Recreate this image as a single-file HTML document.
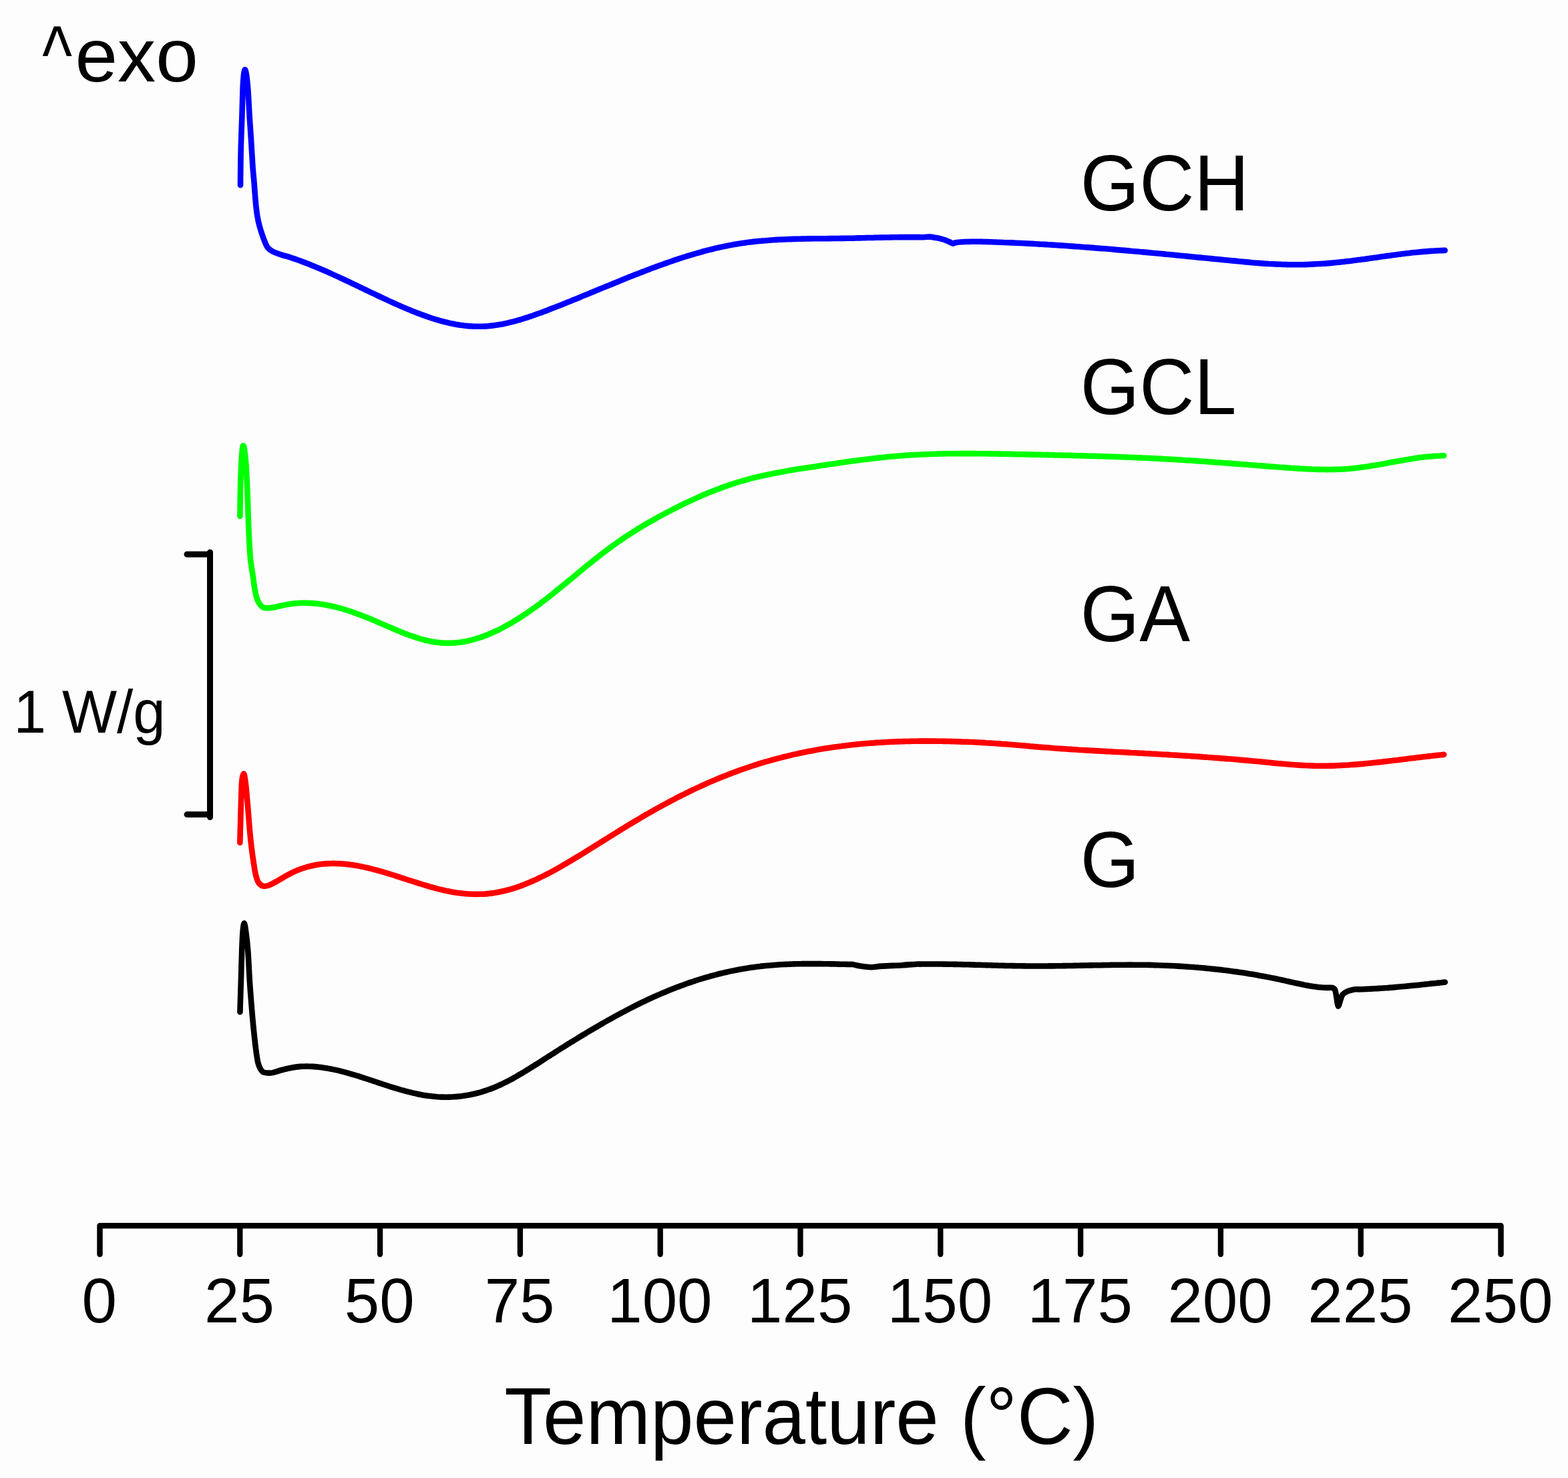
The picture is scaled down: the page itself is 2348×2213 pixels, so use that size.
<!DOCTYPE html>
<html><head><meta charset="utf-8"><title>DSC thermograms</title>
<style>
html,body{margin:0;padding:0;background:#fdfdfd;}
svg{display:block;}
text{font-family:"Liberation Sans",Arial,sans-serif; fill:#000;}
</style></head><body>
<svg width="2348" height="2213" viewBox="0 0 2348 2213">
<rect width="2348" height="2213" fill="#fdfdfd"/>
<g fill="none" stroke-width="8.6" stroke-linecap="round" stroke-linejoin="round">
<path d="M360.0,277.2 C360.1,268.4 360.3,241.7 360.7,224.5 C361.1,207.3 361.9,188.9 362.4,174.0 C362.9,159.1 363.1,145.1 363.5,134.8 C363.9,124.5 364.4,117.1 365.0,112.0 C365.6,106.9 366.2,104.3 366.9,104.3 C367.6,104.3 368.2,106.9 369.0,112.0 C369.8,117.1 370.6,124.5 371.4,134.8 C372.2,145.1 372.9,161.9 373.6,174.0 C374.4,186.1 375.1,194.9 375.9,207.6 C376.7,220.3 377.7,238.9 378.5,250.0 C379.3,261.1 380.0,266.0 380.6,274.0 C381.2,282.0 381.8,290.7 382.4,298.0 C383.0,305.3 383.8,312.5 384.5,318.0 C385.2,323.5 386.0,327.2 386.8,331.0 C387.6,334.8 388.4,337.5 389.2,340.5 C390.0,343.5 390.9,346.2 391.8,349.0 C392.7,351.8 393.8,354.8 394.8,357.5 C395.8,360.2 396.9,363.2 398.0,365.5 C399.1,367.8 399.7,369.6 401.5,371.5 C403.3,373.4 405.2,375.0 409.0,376.8 C412.8,378.6 420.5,381.2 424.0,382.4 C427.5,383.6 428.0,383.4 430.0,383.9 C432.0,384.5 434.0,385.2 436.0,385.9 C438.0,386.5 440.1,387.2 442.1,387.9 C444.1,388.6 446.1,389.3 448.1,390.0 C450.1,390.7 452.1,391.5 454.1,392.2 C456.1,393.0 458.1,393.8 460.1,394.5 C462.1,395.3 464.1,396.1 466.1,396.9 C468.1,397.7 470.1,398.5 472.2,399.4 C474.2,400.2 476.2,401.0 478.2,401.9 C480.2,402.7 482.2,403.6 484.2,404.5 C486.2,405.4 488.2,406.2 490.2,407.1 C492.2,408.0 494.2,408.9 496.2,409.8 C498.2,410.7 500.2,411.6 502.2,412.6 C504.3,413.5 506.3,414.4 508.3,415.3 C510.3,416.3 512.3,417.2 514.3,418.1 C516.3,419.1 518.3,420.0 520.3,421.0 C522.3,421.9 524.3,422.9 526.3,423.8 C528.3,424.8 530.3,425.8 532.3,426.7 C534.3,427.7 536.4,428.6 538.4,429.6 C540.4,430.6 542.4,431.5 544.4,432.5 C546.4,433.4 548.4,434.4 550.4,435.4 C552.4,436.3 554.4,437.3 556.4,438.3 C558.4,439.2 560.4,440.2 562.4,441.1 C564.4,442.1 566.4,443.0 568.5,444.0 C570.5,444.9 572.5,445.9 574.5,446.8 C576.5,447.7 578.5,448.7 580.5,449.6 C582.5,450.5 584.5,451.4 586.5,452.4 C588.5,453.3 590.5,454.2 592.5,455.1 C594.5,456.0 596.5,456.9 598.5,457.7 C600.6,458.6 602.6,459.5 604.6,460.4 C606.6,461.2 608.6,462.1 610.6,462.9 C612.6,463.8 614.6,464.6 616.6,465.4 C618.6,466.2 620.6,467.0 622.6,467.8 C624.6,468.6 626.6,469.4 628.6,470.1 C630.6,470.9 632.7,471.6 634.7,472.3 C636.7,473.1 638.7,473.8 640.7,474.4 C642.7,475.1 644.7,475.8 646.7,476.5 C648.7,477.1 650.7,477.7 652.7,478.3 C654.7,478.9 656.7,479.5 658.7,480.1 C660.7,480.7 662.7,481.2 664.8,481.7 C666.8,482.2 668.8,482.7 670.8,483.2 C672.8,483.6 674.8,484.1 676.8,484.5 C678.8,484.9 680.8,485.3 682.8,485.7 C684.8,486.0 686.8,486.4 688.8,486.7 C690.8,487.0 692.8,487.2 694.8,487.5 C696.9,487.7 698.9,487.9 700.9,488.1 C702.9,488.3 704.9,488.4 706.9,488.5 C708.9,488.7 710.9,488.7 712.9,488.8 C714.9,488.8 716.9,488.8 718.9,488.8 C720.9,488.8 722.9,488.7 724.9,488.6 C726.9,488.5 729.0,488.4 731.0,488.2 C733.0,488.0 735.0,487.8 737.0,487.6 C739.0,487.4 741.0,487.1 743.0,486.8 C745.0,486.5 747.0,486.2 749.0,485.8 C751.0,485.5 753.0,485.1 755.0,484.7 C757.0,484.3 759.1,483.8 761.1,483.3 C763.1,482.9 765.1,482.4 767.1,481.9 C769.1,481.4 771.1,480.8 773.1,480.3 C775.1,479.7 777.1,479.2 779.1,478.6 C781.1,478.0 783.1,477.4 785.1,476.7 C787.1,476.1 789.1,475.5 791.2,474.8 C793.2,474.1 795.2,473.4 797.2,472.8 C799.2,472.1 801.2,471.4 803.2,470.6 C805.2,469.9 807.2,469.2 809.2,468.5 C811.2,467.7 813.2,467.0 815.2,466.2 C817.2,465.5 819.2,464.7 821.2,463.9 C823.3,463.2 825.3,462.4 827.3,461.6 C829.3,460.8 831.3,460.0 833.3,459.3 C835.3,458.5 837.3,457.7 839.3,456.9 C841.3,456.1 843.3,455.3 845.3,454.5 C847.3,453.7 849.3,452.9 851.3,452.1 C853.3,451.2 855.4,450.4 857.4,449.6 C859.4,448.8 861.4,448.0 863.4,447.2 C865.4,446.4 867.4,445.5 869.4,444.7 C871.4,443.9 873.4,443.1 875.4,442.2 C877.4,441.4 879.4,440.6 881.4,439.8 C883.4,438.9 885.4,438.1 887.5,437.3 C889.5,436.5 891.5,435.6 893.5,434.8 C895.5,434.0 897.5,433.1 899.5,432.3 C901.5,431.5 903.5,430.7 905.5,429.8 C907.5,429.0 909.5,428.2 911.5,427.4 C913.5,426.5 915.5,425.7 917.5,424.9 C919.6,424.1 921.6,423.2 923.6,422.4 C925.6,421.6 927.6,420.8 929.6,420.0 C931.6,419.2 933.6,418.4 935.6,417.5 C937.6,416.7 939.6,415.9 941.6,415.1 C943.6,414.3 945.6,413.5 947.6,412.7 C949.6,411.9 951.7,411.1 953.7,410.4 C955.7,409.6 957.7,408.8 959.7,408.0 C961.7,407.2 963.7,406.5 965.7,405.7 C967.7,404.9 969.7,404.2 971.7,403.4 C973.7,402.6 975.7,401.9 977.7,401.1 C979.7,400.4 981.7,399.6 983.8,398.9 C985.8,398.2 987.8,397.4 989.8,396.7 C991.8,396.0 993.8,395.3 995.8,394.6 C997.8,393.9 999.8,393.1 1001.8,392.5 C1003.8,391.8 1005.8,391.1 1007.8,390.4 C1009.8,389.7 1011.8,389.0 1013.8,388.4 C1015.9,387.7 1017.9,387.0 1019.9,386.4 C1021.9,385.7 1023.9,385.1 1025.9,384.5 C1027.9,383.8 1029.9,383.2 1031.9,382.6 C1033.9,382.0 1035.9,381.4 1037.9,380.8 C1039.9,380.2 1041.9,379.6 1043.9,379.0 C1045.9,378.5 1048.0,377.9 1050.0,377.3 C1052.0,376.8 1054.0,376.2 1056.0,375.7 C1058.0,375.2 1060.0,374.7 1062.0,374.2 C1064.0,373.6 1066.0,373.1 1068.0,372.7 C1070.0,372.2 1072.0,371.7 1074.0,371.2 C1076.0,370.8 1078.1,370.3 1080.1,369.9 C1082.1,369.4 1084.1,369.0 1086.1,368.6 C1088.1,368.2 1090.1,367.8 1092.1,367.4 C1094.1,367.0 1096.1,366.6 1098.1,366.3 C1100.1,365.9 1102.1,365.6 1104.1,365.2 C1106.1,364.9 1108.1,364.6 1110.2,364.3 C1112.2,364.0 1114.2,363.7 1116.2,363.4 C1118.2,363.1 1120.2,362.9 1122.2,362.6 C1124.2,362.4 1126.2,362.1 1128.2,361.9 C1130.2,361.7 1132.2,361.5 1134.2,361.3 C1136.2,361.1 1138.2,360.9 1140.2,360.7 C1142.3,360.5 1144.3,360.3 1146.3,360.2 C1148.3,360.0 1150.3,359.8 1152.3,359.7 C1154.3,359.6 1156.3,359.4 1158.3,359.3 C1160.3,359.2 1162.3,359.0 1164.3,358.9 C1166.3,358.8 1168.3,358.7 1170.3,358.6 C1172.3,358.5 1174.4,358.4 1176.4,358.4 C1178.4,358.3 1180.4,358.2 1182.4,358.1 C1184.4,358.1 1186.4,358.0 1188.4,357.9 C1190.4,357.9 1192.4,357.8 1194.4,357.8 C1196.4,357.7 1198.4,357.7 1200.4,357.6 C1202.4,357.6 1204.4,357.6 1206.5,357.5 C1208.5,357.5 1210.5,357.5 1212.5,357.4 C1214.5,357.4 1216.5,357.4 1218.5,357.3 C1220.5,357.3 1222.5,357.3 1224.5,357.3 C1226.5,357.3 1228.5,357.2 1230.5,357.2 C1232.5,357.2 1234.5,357.2 1236.5,357.2 C1238.6,357.1 1240.6,357.1 1242.6,357.1 C1244.6,357.1 1246.6,357.1 1248.6,357.0 C1250.6,357.0 1252.6,357.0 1254.6,357.0 C1256.6,356.9 1258.6,356.9 1260.6,356.9 C1262.6,356.9 1264.6,356.8 1266.6,356.8 C1268.6,356.8 1270.7,356.7 1272.7,356.7 C1274.7,356.6 1276.7,356.6 1278.7,356.6 C1280.7,356.5 1282.7,356.5 1284.7,356.4 C1286.7,356.4 1288.7,356.3 1290.7,356.3 C1292.7,356.2 1294.7,356.2 1296.7,356.1 C1298.7,356.1 1300.7,356.0 1302.8,356.0 C1304.8,356.0 1306.8,355.9 1308.8,355.9 C1310.8,355.8 1312.8,355.8 1314.8,355.7 C1316.8,355.7 1318.8,355.6 1320.8,355.6 C1322.8,355.5 1324.8,355.5 1326.8,355.5 C1328.8,355.4 1330.8,355.4 1332.8,355.4 C1334.9,355.3 1336.9,355.3 1338.9,355.3 C1340.9,355.2 1342.9,355.2 1344.9,355.2 C1346.9,355.2 1348.9,355.1 1350.9,355.1 C1352.9,355.1 1354.9,355.1 1356.9,355.1 C1358.9,355.1 1360.9,355.1 1362.9,355.1 C1364.9,355.1 1367.0,355.1 1369.0,355.1 C1371.0,355.1 1373.0,355.1 1375.0,355.1 C1377.0,355.1 1378.2,355.3 1381.0,355.2 C1383.8,355.1 1388.5,354.5 1392.0,354.6 C1395.5,354.8 1399.0,355.6 1402.0,356.1 C1405.0,356.6 1407.7,357.2 1410.0,357.8 C1412.3,358.4 1414.0,358.9 1416.0,359.7 C1418.0,360.4 1420.2,361.5 1422.0,362.3 C1423.8,363.1 1425.5,364.5 1427.0,364.6 C1428.5,364.8 1428.7,363.6 1431.0,363.2 C1433.3,362.8 1436.0,362.4 1441.0,362.2 C1446.0,361.9 1456.7,361.8 1461.0,361.7 C1465.3,361.6 1465.0,361.8 1467.0,361.8 C1469.0,361.9 1471.0,361.9 1473.0,362.0 C1475.0,362.0 1477.0,362.1 1479.0,362.1 C1481.0,362.2 1483.0,362.3 1485.0,362.3 C1487.0,362.4 1489.0,362.5 1491.0,362.5 C1493.0,362.6 1495.0,362.7 1497.0,362.7 C1499.0,362.8 1501.0,362.9 1503.0,363.0 C1505.0,363.0 1507.0,363.1 1509.0,363.2 C1511.0,363.3 1513.1,363.4 1515.1,363.4 C1517.1,363.5 1519.1,363.6 1521.1,363.7 C1523.1,363.8 1525.1,363.9 1527.1,364.0 C1529.1,364.1 1531.1,364.2 1533.1,364.3 C1535.1,364.4 1537.1,364.5 1539.1,364.6 C1541.1,364.7 1543.1,364.8 1545.1,364.9 C1547.1,365.0 1549.1,365.1 1551.1,365.2 C1553.1,365.3 1555.1,365.4 1557.1,365.6 C1559.1,365.7 1561.1,365.8 1563.1,365.9 C1565.1,366.0 1567.1,366.1 1569.1,366.3 C1571.1,366.4 1573.1,366.5 1575.1,366.6 C1577.1,366.8 1579.1,366.9 1581.1,367.0 C1583.1,367.1 1585.1,367.3 1587.1,367.4 C1589.1,367.5 1591.1,367.7 1593.1,367.8 C1595.1,368.0 1597.1,368.1 1599.1,368.2 C1601.1,368.4 1603.1,368.5 1605.1,368.6 C1607.1,368.8 1609.1,368.9 1611.1,369.1 C1613.2,369.2 1615.2,369.4 1617.2,369.5 C1619.2,369.7 1621.2,369.8 1623.2,370.0 C1625.2,370.1 1627.2,370.3 1629.2,370.4 C1631.2,370.6 1633.2,370.7 1635.2,370.9 C1637.2,371.1 1639.2,371.2 1641.2,371.4 C1643.2,371.5 1645.2,371.7 1647.2,371.9 C1649.2,372.0 1651.2,372.2 1653.2,372.3 C1655.2,372.5 1657.2,372.7 1659.2,372.8 C1661.2,373.0 1663.2,373.2 1665.2,373.3 C1667.2,373.5 1669.2,373.7 1671.2,373.9 C1673.2,374.0 1675.2,374.2 1677.2,374.4 C1679.2,374.5 1681.2,374.7 1683.2,374.9 C1685.2,375.1 1687.2,375.2 1689.2,375.4 C1691.2,375.6 1693.2,375.8 1695.2,376.0 C1697.2,376.1 1699.2,376.3 1701.2,376.5 C1703.2,376.7 1705.2,376.9 1707.2,377.0 C1709.2,377.2 1711.2,377.4 1713.3,377.6 C1715.3,377.8 1717.3,378.0 1719.3,378.1 C1721.3,378.3 1723.3,378.5 1725.3,378.7 C1727.3,378.9 1729.3,379.1 1731.3,379.3 C1733.3,379.5 1735.3,379.6 1737.3,379.8 C1739.3,380.0 1741.3,380.2 1743.3,380.4 C1745.3,380.6 1747.3,380.8 1749.3,381.0 C1751.3,381.2 1753.3,381.4 1755.3,381.5 C1757.3,381.7 1759.3,381.9 1761.3,382.1 C1763.3,382.3 1765.3,382.5 1767.3,382.7 C1769.3,382.9 1771.3,383.1 1773.3,383.3 C1775.3,383.5 1777.3,383.7 1779.3,383.9 C1781.3,384.1 1783.3,384.3 1785.3,384.5 C1787.3,384.7 1789.3,384.9 1791.3,385.1 C1793.3,385.2 1795.3,385.4 1797.3,385.6 C1799.3,385.8 1801.3,386.0 1803.3,386.2 C1805.3,386.4 1807.3,386.6 1809.3,386.8 C1811.3,387.0 1813.4,387.2 1815.4,387.4 C1817.4,387.6 1819.4,387.8 1821.4,388.0 C1823.4,388.2 1825.4,388.4 1827.4,388.6 C1829.4,388.8 1831.4,389.0 1833.4,389.2 C1835.4,389.4 1837.4,389.6 1839.4,389.8 C1841.4,390.0 1843.4,390.2 1845.4,390.4 C1847.4,390.6 1849.4,390.8 1851.4,390.9 C1853.4,391.1 1855.4,391.3 1857.4,391.5 C1859.4,391.7 1861.4,391.9 1863.4,392.1 C1865.4,392.3 1867.4,392.5 1869.4,392.6 C1871.4,392.8 1873.4,393.0 1875.4,393.2 C1877.4,393.3 1879.4,393.5 1881.4,393.7 C1883.4,393.8 1885.4,394.0 1887.4,394.1 C1889.4,394.3 1891.4,394.4 1893.4,394.6 C1895.4,394.7 1897.4,394.8 1899.4,395.0 C1901.4,395.1 1903.4,395.2 1905.4,395.3 C1907.4,395.4 1909.4,395.5 1911.4,395.6 C1913.5,395.7 1915.5,395.8 1917.5,395.8 C1919.5,395.9 1921.5,396.0 1923.5,396.0 C1925.5,396.1 1927.5,396.1 1929.5,396.2 C1931.5,396.2 1933.5,396.2 1935.5,396.2 C1937.5,396.2 1939.5,396.2 1941.5,396.2 C1943.5,396.2 1945.5,396.2 1947.5,396.2 C1949.5,396.1 1951.5,396.1 1953.5,396.1 C1955.5,396.0 1957.5,395.9 1959.5,395.9 C1961.5,395.8 1963.5,395.7 1965.5,395.6 C1967.5,395.5 1969.5,395.4 1971.5,395.3 C1973.5,395.2 1975.5,395.1 1977.5,395.0 C1979.5,394.9 1981.5,394.7 1983.5,394.6 C1985.5,394.4 1987.5,394.3 1989.5,394.1 C1991.5,393.9 1993.5,393.8 1995.5,393.6 C1997.5,393.4 1999.5,393.2 2001.5,393.0 C2003.5,392.8 2005.5,392.6 2007.5,392.4 C2009.5,392.2 2011.5,391.9 2013.6,391.7 C2015.6,391.5 2017.6,391.2 2019.6,391.0 C2021.6,390.8 2023.6,390.5 2025.6,390.3 C2027.6,390.0 2029.6,389.7 2031.6,389.5 C2033.6,389.2 2035.6,389.0 2037.6,388.7 C2039.6,388.4 2041.6,388.2 2043.6,387.9 C2045.6,387.6 2047.6,387.3 2049.6,387.1 C2051.6,386.8 2053.6,386.5 2055.6,386.2 C2057.6,385.9 2059.6,385.7 2061.6,385.4 C2063.6,385.1 2065.6,384.8 2067.6,384.5 C2069.6,384.2 2071.6,384.0 2073.6,383.7 C2075.6,383.4 2077.6,383.1 2079.6,382.9 C2081.6,382.6 2083.6,382.3 2085.6,382.0 C2087.6,381.8 2089.6,381.5 2091.6,381.2 C2093.6,381.0 2095.6,380.7 2097.6,380.5 C2099.6,380.2 2101.6,380.0 2103.6,379.7 C2105.6,379.5 2107.6,379.2 2109.6,379.0 C2111.6,378.8 2113.7,378.6 2115.7,378.3 C2117.7,378.1 2119.7,377.9 2121.7,377.7 C2123.7,377.5 2125.7,377.3 2127.7,377.1 C2129.7,376.9 2131.7,376.8 2133.7,376.6 C2135.7,376.4 2137.7,376.3 2139.7,376.1 C2141.7,376.0 2143.7,375.8 2145.7,375.7 C2147.7,375.6 2149.7,375.5 2151.7,375.4 C2153.7,375.3 2155.7,375.2 2157.7,375.1 C2159.7,375.0 2162.7,374.9 2163.7,374.9" stroke="#0000ff" />
<path d="M359.4,773.0 C359.5,765.0 359.8,739.0 360.2,724.7 C360.6,710.4 361.2,696.2 361.7,687.4 C362.2,678.6 362.6,675.4 363.0,672.0 C363.4,668.6 363.7,667.2 364.2,667.2 C364.7,667.2 365.1,667.4 365.8,672.0 C366.5,676.6 367.6,683.5 368.4,694.8 C369.2,706.1 370.0,724.8 370.6,739.7 C371.2,754.7 371.5,769.5 372.1,784.5 C372.7,799.5 373.7,818.8 374.4,829.4 C375.1,840.0 375.8,842.9 376.5,848.0 C377.2,853.1 377.7,855.0 378.4,860.0 C379.1,865.0 380.0,872.6 380.9,878.1 C381.8,883.6 382.7,889.0 383.9,893.2 C385.1,897.4 386.4,900.8 388.1,903.5 C389.8,906.2 392.1,908.4 394.1,909.5 C396.1,910.6 397.2,910.5 400.2,910.4 C403.2,910.3 408.2,909.6 412.2,908.9 C416.2,908.2 421.3,906.8 424.3,906.2 C427.3,905.6 428.3,905.4 430.3,905.0 C432.3,904.7 434.3,904.3 436.3,904.1 C438.3,903.8 440.3,903.6 442.3,903.4 C444.3,903.2 446.3,903.1 448.4,903.0 C450.4,902.9 452.4,902.8 454.4,902.8 C456.4,902.8 458.4,902.8 460.4,902.9 C462.4,902.9 464.4,903.0 466.4,903.1 C468.4,903.3 470.4,903.4 472.4,903.6 C474.4,903.8 476.4,904.0 478.4,904.3 C480.4,904.6 482.4,904.9 484.4,905.2 C486.4,905.5 488.4,905.9 490.4,906.2 C492.5,906.6 494.5,907.0 496.5,907.5 C498.5,907.9 500.5,908.4 502.5,908.9 C504.5,909.4 506.5,909.9 508.5,910.5 C510.5,911.0 512.5,911.6 514.5,912.2 C516.5,912.8 518.5,913.4 520.5,914.0 C522.5,914.7 524.5,915.3 526.5,916.0 C528.5,916.7 530.5,917.4 532.5,918.1 C534.5,918.8 536.6,919.6 538.6,920.3 C540.6,921.1 542.6,921.9 544.6,922.7 C546.6,923.5 548.6,924.3 550.6,925.1 C552.6,925.9 554.6,926.7 556.6,927.6 C558.6,928.4 560.6,929.3 562.6,930.1 C564.6,931.0 566.6,931.9 568.6,932.7 C570.6,933.6 572.6,934.5 574.6,935.3 C576.6,936.2 578.6,937.1 580.7,938.0 C582.7,938.8 584.7,939.7 586.7,940.5 C588.7,941.4 590.7,942.2 592.7,943.1 C594.7,943.9 596.7,944.8 598.7,945.6 C600.7,946.4 602.7,947.2 604.7,948.0 C606.7,948.7 608.7,949.5 610.7,950.2 C612.7,951.0 614.7,951.7 616.7,952.4 C618.7,953.1 620.7,953.8 622.7,954.4 C624.7,955.1 626.8,955.7 628.8,956.3 C630.8,956.9 632.8,957.4 634.8,958.0 C636.8,958.5 638.8,959.0 640.8,959.4 C642.8,959.9 644.8,960.3 646.8,960.7 C648.8,961.0 650.8,961.4 652.8,961.6 C654.8,961.9 656.8,962.2 658.8,962.4 C660.8,962.6 662.8,962.7 664.8,962.8 C666.8,962.9 668.8,962.9 670.9,962.9 C672.9,962.9 674.9,962.9 676.9,962.8 C678.9,962.7 680.9,962.6 682.9,962.4 C684.9,962.2 686.9,962.0 688.9,961.7 C690.9,961.4 692.9,961.1 694.9,960.8 C696.9,960.4 698.9,960.0 700.9,959.6 C702.9,959.1 704.9,958.6 706.9,958.1 C708.9,957.6 710.9,957.0 712.9,956.4 C715.0,955.8 717.0,955.2 719.0,954.5 C721.0,953.9 723.0,953.1 725.0,952.4 C727.0,951.6 729.0,950.9 731.0,950.0 C733.0,949.2 735.0,948.4 737.0,947.5 C739.0,946.6 741.0,945.7 743.0,944.7 C745.0,943.8 747.0,942.8 749.0,941.8 C751.0,940.8 753.0,939.7 755.0,938.7 C757.0,937.6 759.1,936.5 761.1,935.3 C763.1,934.2 765.1,933.1 767.1,931.9 C769.1,930.7 771.1,929.5 773.1,928.2 C775.1,927.0 777.1,925.7 779.1,924.4 C781.1,923.2 783.1,921.8 785.1,920.5 C787.1,919.2 789.1,917.8 791.1,916.4 C793.1,915.1 795.1,913.6 797.1,912.2 C799.1,910.8 801.1,909.4 803.2,907.9 C805.2,906.4 807.2,905.0 809.2,903.5 C811.2,902.0 813.2,900.4 815.2,898.9 C817.2,897.4 819.2,895.8 821.2,894.3 C823.2,892.7 825.2,891.1 827.2,889.5 C829.2,887.9 831.2,886.3 833.2,884.7 C835.2,883.1 837.2,881.5 839.2,879.8 C841.2,878.2 843.2,876.5 845.2,874.9 C847.2,873.2 849.3,871.6 851.3,869.9 C853.3,868.3 855.3,866.6 857.3,864.9 C859.3,863.3 861.3,861.6 863.3,860.0 C865.3,858.3 867.3,856.6 869.3,855.0 C871.3,853.3 873.3,851.7 875.3,850.0 C877.3,848.4 879.3,846.7 881.3,845.1 C883.3,843.5 885.3,841.9 887.3,840.3 C889.3,838.6 891.3,837.0 893.4,835.5 C895.4,833.9 897.4,832.3 899.4,830.7 C901.4,829.2 903.4,827.6 905.4,826.1 C907.4,824.6 909.4,823.1 911.4,821.6 C913.4,820.1 915.4,818.7 917.4,817.2 C919.4,815.8 921.4,814.3 923.4,812.9 C925.4,811.5 927.4,810.1 929.4,808.8 C931.4,807.4 933.4,806.0 935.4,804.7 C937.5,803.4 939.5,802.0 941.5,800.7 C943.5,799.4 945.5,798.1 947.5,796.9 C949.5,795.6 951.5,794.3 953.5,793.1 C955.5,791.9 957.5,790.6 959.5,789.4 C961.5,788.2 963.5,787.0 965.5,785.8 C967.5,784.6 969.5,783.5 971.5,782.3 C973.5,781.1 975.5,780.0 977.5,778.9 C979.5,777.7 981.6,776.6 983.6,775.5 C985.6,774.4 987.6,773.3 989.6,772.2 C991.6,771.1 993.6,770.0 995.6,769.0 C997.6,767.9 999.6,766.9 1001.6,765.8 C1003.6,764.8 1005.6,763.7 1007.6,762.7 C1009.6,761.7 1011.6,760.6 1013.6,759.6 C1015.6,758.6 1017.6,757.6 1019.6,756.6 C1021.6,755.7 1023.6,754.7 1025.6,753.7 C1027.7,752.7 1029.7,751.8 1031.7,750.9 C1033.7,749.9 1035.7,749.0 1037.7,748.1 C1039.7,747.1 1041.7,746.2 1043.7,745.3 C1045.7,744.4 1047.7,743.5 1049.7,742.7 C1051.7,741.8 1053.7,740.9 1055.7,740.1 C1057.7,739.2 1059.7,738.4 1061.7,737.6 C1063.7,736.8 1065.7,736.0 1067.7,735.2 C1069.7,734.4 1071.8,733.6 1073.8,732.8 C1075.8,732.1 1077.8,731.3 1079.8,730.6 C1081.8,729.8 1083.8,729.1 1085.8,728.4 C1087.8,727.7 1089.8,727.0 1091.8,726.3 C1093.8,725.6 1095.8,725.0 1097.8,724.3 C1099.8,723.7 1101.8,723.0 1103.8,722.4 C1105.8,721.8 1107.8,721.2 1109.8,720.6 C1111.8,720.0 1113.8,719.4 1115.9,718.9 C1117.9,718.3 1119.9,717.8 1121.9,717.2 C1123.9,716.7 1125.9,716.2 1127.9,715.7 C1129.9,715.2 1131.9,714.7 1133.9,714.2 C1135.9,713.7 1137.9,713.3 1139.9,712.8 C1141.9,712.3 1143.9,711.9 1145.9,711.5 C1147.9,711.0 1149.9,710.6 1151.9,710.2 C1153.9,709.8 1155.9,709.4 1157.9,709.0 C1160.0,708.6 1162.0,708.2 1164.0,707.8 C1166.0,707.4 1168.0,707.0 1170.0,706.7 C1172.0,706.3 1174.0,706.0 1176.0,705.6 C1178.0,705.2 1180.0,704.9 1182.0,704.6 C1184.0,704.2 1186.0,703.9 1188.0,703.6 C1190.0,703.2 1192.0,702.9 1194.0,702.6 C1196.0,702.3 1198.0,701.9 1200.0,701.6 C1202.0,701.3 1204.0,701.0 1206.1,700.7 C1208.1,700.4 1210.1,700.1 1212.1,699.8 C1214.1,699.5 1216.1,699.2 1218.1,698.9 C1220.1,698.6 1222.1,698.3 1224.1,698.0 C1226.1,697.7 1228.1,697.4 1230.1,697.1 C1232.1,696.8 1234.1,696.5 1236.1,696.2 C1238.1,695.9 1240.1,695.6 1242.1,695.3 C1244.1,695.0 1246.1,694.7 1248.1,694.4 C1250.2,694.1 1252.2,693.8 1254.2,693.5 C1256.2,693.2 1258.2,692.9 1260.2,692.6 C1262.2,692.4 1264.2,692.1 1266.2,691.8 C1268.2,691.5 1270.2,691.2 1272.2,690.9 C1274.2,690.7 1276.2,690.4 1278.2,690.1 C1280.2,689.8 1282.2,689.6 1284.2,689.3 C1286.2,689.0 1288.2,688.8 1290.2,688.5 C1292.2,688.3 1294.3,688.0 1296.3,687.8 C1298.3,687.5 1300.3,687.3 1302.3,687.0 C1304.3,686.8 1306.3,686.5 1308.3,686.3 C1310.3,686.1 1312.3,685.8 1314.3,685.6 C1316.3,685.4 1318.3,685.2 1320.3,685.0 C1322.3,684.8 1324.3,684.5 1326.3,684.3 C1328.3,684.1 1330.3,684.0 1332.3,683.8 C1334.3,683.6 1336.3,683.4 1338.4,683.2 C1340.4,683.0 1342.4,682.9 1344.4,682.7 C1346.4,682.5 1348.4,682.4 1350.4,682.2 C1352.4,682.1 1354.4,681.9 1356.4,681.8 C1358.4,681.7 1360.4,681.5 1362.4,681.4 C1364.4,681.3 1366.4,681.2 1368.4,681.1 C1370.4,680.9 1372.4,680.8 1374.4,680.7 C1376.4,680.6 1378.4,680.5 1380.4,680.5 C1382.5,680.4 1384.5,680.3 1386.5,680.2 C1388.5,680.1 1390.5,680.0 1392.5,680.0 C1394.5,679.9 1396.5,679.8 1398.5,679.8 C1400.5,679.7 1402.5,679.7 1404.5,679.6 C1406.5,679.6 1408.5,679.5 1410.5,679.5 C1412.5,679.4 1414.5,679.4 1416.5,679.3 C1418.5,679.3 1420.5,679.3 1422.5,679.3 C1424.5,679.2 1426.5,679.2 1428.6,679.2 C1430.6,679.2 1432.6,679.2 1434.6,679.1 C1436.6,679.1 1438.6,679.1 1440.6,679.1 C1442.6,679.1 1444.6,679.1 1446.6,679.1 C1448.6,679.1 1450.6,679.1 1452.6,679.1 C1454.6,679.1 1456.6,679.1 1458.6,679.1 C1460.6,679.2 1462.6,679.2 1464.6,679.2 C1466.6,679.2 1468.6,679.2 1470.6,679.2 C1472.7,679.3 1474.7,679.3 1476.7,679.3 C1478.7,679.3 1480.7,679.4 1482.7,679.4 C1484.7,679.4 1486.7,679.5 1488.7,679.5 C1490.7,679.5 1492.7,679.6 1494.7,679.6 C1496.7,679.6 1498.7,679.7 1500.7,679.7 C1502.7,679.7 1504.7,679.8 1506.7,679.8 C1508.7,679.9 1510.7,679.9 1512.7,679.9 C1514.7,680.0 1516.8,680.0 1518.8,680.1 C1520.8,680.1 1522.8,680.1 1524.8,680.2 C1526.8,680.2 1528.8,680.3 1530.8,680.3 C1532.8,680.4 1534.8,680.4 1536.8,680.4 C1538.8,680.5 1540.8,680.5 1542.8,680.6 C1544.8,680.6 1546.8,680.7 1548.8,680.7 C1550.8,680.7 1552.8,680.8 1554.8,680.8 C1556.8,680.9 1558.8,680.9 1560.9,681.0 C1562.9,681.0 1564.9,681.1 1566.9,681.1 C1568.9,681.1 1570.9,681.2 1572.9,681.2 C1574.9,681.3 1576.9,681.3 1578.9,681.4 C1580.9,681.4 1582.9,681.5 1584.9,681.5 C1586.9,681.6 1588.9,681.6 1590.9,681.7 C1592.9,681.7 1594.9,681.7 1596.9,681.8 C1598.9,681.8 1600.9,681.9 1602.9,681.9 C1604.9,682.0 1607.0,682.0 1609.0,682.1 C1611.0,682.2 1613.0,682.2 1615.0,682.3 C1617.0,682.3 1619.0,682.4 1621.0,682.4 C1623.0,682.5 1625.0,682.5 1627.0,682.6 C1629.0,682.6 1631.0,682.7 1633.0,682.8 C1635.0,682.8 1637.0,682.9 1639.0,682.9 C1641.0,683.0 1643.0,683.0 1645.0,683.1 C1647.0,683.2 1649.0,683.2 1651.1,683.3 C1653.1,683.4 1655.1,683.4 1657.1,683.5 C1659.1,683.6 1661.1,683.6 1663.1,683.7 C1665.1,683.8 1667.1,683.8 1669.1,683.9 C1671.1,684.0 1673.1,684.0 1675.1,684.1 C1677.1,684.2 1679.1,684.3 1681.1,684.3 C1683.1,684.4 1685.1,684.5 1687.1,684.6 C1689.1,684.6 1691.1,684.7 1693.1,684.8 C1695.2,684.9 1697.2,685.0 1699.2,685.0 C1701.2,685.1 1703.2,685.2 1705.2,685.3 C1707.2,685.4 1709.2,685.5 1711.2,685.6 C1713.2,685.6 1715.2,685.7 1717.2,685.8 C1719.2,685.9 1721.2,686.0 1723.2,686.1 C1725.2,686.2 1727.2,686.3 1729.2,686.4 C1731.2,686.5 1733.2,686.6 1735.2,686.7 C1737.2,686.8 1739.3,686.9 1741.3,687.0 C1743.3,687.1 1745.3,687.2 1747.3,687.4 C1749.3,687.5 1751.3,687.6 1753.3,687.7 C1755.3,687.8 1757.3,687.9 1759.3,688.0 C1761.3,688.2 1763.3,688.3 1765.3,688.4 C1767.3,688.5 1769.3,688.6 1771.3,688.8 C1773.3,688.9 1775.3,689.0 1777.3,689.2 C1779.3,689.3 1781.3,689.4 1783.3,689.5 C1785.4,689.7 1787.4,689.8 1789.4,689.9 C1791.4,690.1 1793.4,690.2 1795.4,690.4 C1797.4,690.5 1799.4,690.6 1801.4,690.8 C1803.4,690.9 1805.4,691.1 1807.4,691.2 C1809.4,691.4 1811.4,691.5 1813.4,691.6 C1815.4,691.8 1817.4,691.9 1819.4,692.1 C1821.4,692.2 1823.4,692.4 1825.4,692.5 C1827.4,692.7 1829.5,692.8 1831.5,693.0 C1833.5,693.1 1835.5,693.3 1837.5,693.4 C1839.5,693.6 1841.5,693.7 1843.5,693.9 C1845.5,694.1 1847.5,694.2 1849.5,694.4 C1851.5,694.5 1853.5,694.7 1855.5,694.8 C1857.5,695.0 1859.5,695.1 1861.5,695.3 C1863.5,695.5 1865.5,695.6 1867.5,695.8 C1869.5,695.9 1871.5,696.1 1873.6,696.2 C1875.6,696.4 1877.6,696.5 1879.6,696.7 C1881.6,696.9 1883.6,697.0 1885.6,697.2 C1887.6,697.3 1889.6,697.5 1891.6,697.6 C1893.6,697.8 1895.6,697.9 1897.6,698.1 C1899.6,698.3 1901.6,698.4 1903.6,698.6 C1905.6,698.7 1907.6,698.9 1909.6,699.0 C1911.6,699.2 1913.6,699.3 1915.6,699.5 C1917.7,699.6 1919.7,699.8 1921.7,699.9 C1923.7,700.1 1925.7,700.2 1927.7,700.4 C1929.7,700.5 1931.7,700.6 1933.7,700.8 C1935.7,700.9 1937.7,701.1 1939.7,701.2 C1941.7,701.3 1943.7,701.5 1945.7,701.6 C1947.7,701.7 1949.7,701.8 1951.7,701.9 C1953.7,702.0 1955.7,702.1 1957.7,702.2 C1959.7,702.3 1961.8,702.4 1963.8,702.5 C1965.8,702.6 1967.8,702.7 1969.8,702.7 C1971.8,702.8 1973.8,702.9 1975.8,702.9 C1977.8,703.0 1979.8,703.0 1981.8,703.0 C1983.8,703.0 1985.8,703.1 1987.8,703.1 C1989.8,703.1 1991.8,703.0 1993.8,703.0 C1995.8,703.0 1997.8,703.0 1999.8,702.9 C2001.8,702.8 2003.8,702.8 2005.8,702.7 C2007.9,702.6 2009.9,702.5 2011.9,702.4 C2013.9,702.3 2015.9,702.1 2017.9,702.0 C2019.9,701.8 2021.9,701.7 2023.9,701.5 C2025.9,701.3 2027.9,701.1 2029.9,700.9 C2031.9,700.6 2033.9,700.4 2035.9,700.1 C2037.9,699.9 2039.9,699.6 2041.9,699.3 C2043.9,699.0 2045.9,698.7 2047.9,698.4 C2049.9,698.1 2052.0,697.8 2054.0,697.5 C2056.0,697.2 2058.0,696.8 2060.0,696.5 C2062.0,696.1 2064.0,695.8 2066.0,695.4 C2068.0,695.1 2070.0,694.7 2072.0,694.4 C2074.0,694.0 2076.0,693.6 2078.0,693.3 C2080.0,692.9 2082.0,692.5 2084.0,692.1 C2086.0,691.8 2088.0,691.4 2090.0,691.0 C2092.0,690.7 2094.0,690.3 2096.1,690.0 C2098.1,689.6 2100.1,689.2 2102.1,688.9 C2104.1,688.5 2106.1,688.2 2108.1,687.9 C2110.1,687.5 2112.1,687.2 2114.1,686.9 C2116.1,686.6 2118.1,686.3 2120.1,686.0 C2122.1,685.7 2124.1,685.4 2126.1,685.1 C2128.1,684.9 2130.1,684.6 2132.1,684.4 C2134.1,684.2 2136.1,683.9 2138.1,683.7 C2140.2,683.5 2142.2,683.3 2144.2,683.2 C2146.2,683.0 2148.2,682.9 2150.2,682.8 C2152.2,682.6 2154.2,682.5 2156.2,682.5 C2158.2,682.4 2161.2,682.3 2162.2,682.3" stroke="#00ff00" />
<path d="M359.3,1261.6 C359.4,1256.3 359.9,1241.6 360.2,1229.7 C360.5,1217.8 360.9,1200.7 361.3,1190.4 C361.7,1180.1 361.8,1173.3 362.4,1168.0 C363.0,1162.7 364.1,1158.7 364.9,1158.5 C365.7,1158.3 366.3,1162.6 367.0,1167.0 C367.7,1171.4 368.3,1176.2 369.1,1184.8 C369.9,1193.4 371.1,1207.3 372.0,1218.5 C372.9,1229.7 373.8,1241.8 374.8,1252.1 C375.8,1262.4 376.8,1270.8 378.1,1280.1 C379.4,1289.4 381.1,1301.3 382.6,1308.2 C384.1,1315.1 385.2,1318.5 387.1,1321.6 C389.0,1324.7 391.2,1326.0 393.8,1326.7 C396.4,1327.4 399.6,1326.5 402.8,1325.5 C406.0,1324.5 409.4,1322.3 412.9,1320.4 C416.4,1318.5 421.1,1315.7 424.0,1314.0 C426.9,1312.3 428.0,1311.6 430.0,1310.5 C432.0,1309.3 434.0,1308.3 436.0,1307.3 C438.0,1306.3 440.0,1305.4 442.0,1304.5 C444.0,1303.6 446.1,1302.8 448.1,1302.0 C450.1,1301.2 452.1,1300.5 454.1,1299.8 C456.1,1299.2 458.1,1298.6 460.1,1298.0 C462.1,1297.4 464.1,1296.9 466.1,1296.5 C468.1,1296.0 470.1,1295.6 472.1,1295.2 C474.1,1294.8 476.1,1294.5 478.1,1294.2 C480.1,1294.0 482.1,1293.7 484.1,1293.5 C486.2,1293.3 488.2,1293.2 490.2,1293.1 C492.2,1293.0 494.2,1292.9 496.2,1292.9 C498.2,1292.8 500.2,1292.8 502.2,1292.9 C504.2,1292.9 506.2,1293.0 508.2,1293.1 C510.2,1293.2 512.2,1293.3 514.2,1293.5 C516.2,1293.7 518.2,1293.9 520.2,1294.1 C522.2,1294.3 524.2,1294.6 526.2,1294.9 C528.3,1295.1 530.3,1295.5 532.3,1295.8 C534.3,1296.1 536.3,1296.5 538.3,1296.9 C540.3,1297.3 542.3,1297.7 544.3,1298.1 C546.3,1298.5 548.3,1299.0 550.3,1299.5 C552.3,1299.9 554.3,1300.4 556.3,1300.9 C558.3,1301.4 560.3,1301.9 562.3,1302.5 C564.3,1303.0 566.3,1303.6 568.3,1304.1 C570.4,1304.7 572.4,1305.3 574.4,1305.9 C576.4,1306.5 578.4,1307.1 580.4,1307.7 C582.4,1308.3 584.4,1308.9 586.4,1309.5 C588.4,1310.2 590.4,1310.8 592.4,1311.4 C594.4,1312.1 596.4,1312.7 598.4,1313.4 C600.4,1314.0 602.4,1314.7 604.4,1315.3 C606.4,1316.0 608.4,1316.6 610.5,1317.3 C612.5,1317.9 614.5,1318.6 616.5,1319.2 C618.5,1319.9 620.5,1320.5 622.5,1321.1 C624.5,1321.8 626.5,1322.4 628.5,1323.0 C630.5,1323.7 632.5,1324.3 634.5,1324.9 C636.5,1325.5 638.5,1326.1 640.5,1326.7 C642.5,1327.3 644.5,1327.8 646.5,1328.4 C648.5,1329.0 650.5,1329.5 652.6,1330.0 C654.6,1330.6 656.6,1331.1 658.6,1331.6 C660.6,1332.1 662.6,1332.5 664.6,1333.0 C666.6,1333.4 668.6,1333.9 670.6,1334.3 C672.6,1334.7 674.6,1335.1 676.6,1335.5 C678.6,1335.8 680.6,1336.2 682.6,1336.5 C684.6,1336.8 686.6,1337.1 688.6,1337.3 C690.6,1337.6 692.6,1337.8 694.7,1338.0 C696.7,1338.2 698.7,1338.4 700.7,1338.5 C702.7,1338.6 704.7,1338.7 706.7,1338.8 C708.7,1338.9 710.7,1338.9 712.7,1338.9 C714.7,1338.9 716.7,1338.9 718.7,1338.8 C720.7,1338.8 722.7,1338.7 724.7,1338.6 C726.7,1338.4 728.7,1338.3 730.7,1338.1 C732.7,1337.9 734.8,1337.6 736.8,1337.4 C738.8,1337.1 740.8,1336.8 742.8,1336.4 C744.8,1336.1 746.8,1335.7 748.8,1335.3 C750.8,1334.9 752.8,1334.5 754.8,1334.0 C756.8,1333.5 758.8,1333.0 760.8,1332.5 C762.8,1332.0 764.8,1331.4 766.8,1330.8 C768.8,1330.2 770.8,1329.5 772.8,1328.9 C774.8,1328.2 776.9,1327.5 778.9,1326.8 C780.9,1326.0 782.9,1325.3 784.9,1324.5 C786.9,1323.7 788.9,1322.9 790.9,1322.1 C792.9,1321.3 794.9,1320.4 796.9,1319.5 C798.9,1318.6 800.9,1317.7 802.9,1316.8 C804.9,1315.9 806.9,1314.9 808.9,1313.9 C810.9,1313.0 812.9,1312.0 814.9,1311.0 C816.9,1309.9 819.0,1308.9 821.0,1307.9 C823.0,1306.8 825.0,1305.8 827.0,1304.7 C829.0,1303.6 831.0,1302.5 833.0,1301.4 C835.0,1300.3 837.0,1299.1 839.0,1298.0 C841.0,1296.9 843.0,1295.7 845.0,1294.5 C847.0,1293.4 849.0,1292.2 851.0,1291.0 C853.0,1289.8 855.0,1288.7 857.0,1287.5 C859.1,1286.3 861.1,1285.0 863.1,1283.8 C865.1,1282.6 867.1,1281.4 869.1,1280.2 C871.1,1279.0 873.1,1277.7 875.1,1276.5 C877.1,1275.3 879.1,1274.0 881.1,1272.8 C883.1,1271.5 885.1,1270.3 887.1,1269.0 C889.1,1267.8 891.1,1266.5 893.1,1265.3 C895.1,1264.0 897.1,1262.8 899.1,1261.5 C901.2,1260.3 903.2,1259.0 905.2,1257.8 C907.2,1256.5 909.2,1255.3 911.2,1254.0 C913.2,1252.8 915.2,1251.5 917.2,1250.3 C919.2,1249.0 921.2,1247.8 923.2,1246.5 C925.2,1245.3 927.2,1244.0 929.2,1242.8 C931.2,1241.6 933.2,1240.3 935.2,1239.1 C937.2,1237.9 939.2,1236.6 941.2,1235.4 C943.3,1234.2 945.3,1233.0 947.3,1231.8 C949.3,1230.6 951.3,1229.4 953.3,1228.2 C955.3,1227.0 957.3,1225.8 959.3,1224.6 C961.3,1223.4 963.3,1222.2 965.3,1221.1 C967.3,1219.9 969.3,1218.8 971.3,1217.6 C973.3,1216.4 975.3,1215.3 977.3,1214.2 C979.3,1213.0 981.3,1211.9 983.4,1210.8 C985.4,1209.7 987.4,1208.6 989.4,1207.5 C991.4,1206.4 993.4,1205.3 995.4,1204.2 C997.4,1203.1 999.4,1202.0 1001.4,1200.9 C1003.4,1199.9 1005.4,1198.8 1007.4,1197.8 C1009.4,1196.7 1011.4,1195.7 1013.4,1194.6 C1015.4,1193.6 1017.4,1192.6 1019.4,1191.6 C1021.4,1190.6 1023.4,1189.6 1025.5,1188.6 C1027.5,1187.6 1029.5,1186.6 1031.5,1185.6 C1033.5,1184.6 1035.5,1183.7 1037.5,1182.7 C1039.5,1181.7 1041.5,1180.8 1043.5,1179.9 C1045.5,1178.9 1047.5,1178.0 1049.5,1177.1 C1051.5,1176.2 1053.5,1175.3 1055.5,1174.4 C1057.5,1173.5 1059.5,1172.6 1061.5,1171.7 C1063.5,1170.8 1065.6,1170.0 1067.6,1169.1 C1069.6,1168.3 1071.6,1167.4 1073.6,1166.6 C1075.6,1165.7 1077.6,1164.9 1079.6,1164.1 C1081.6,1163.3 1083.6,1162.5 1085.6,1161.7 C1087.6,1160.9 1089.6,1160.1 1091.6,1159.3 C1093.6,1158.6 1095.6,1157.8 1097.6,1157.0 C1099.6,1156.3 1101.6,1155.5 1103.6,1154.8 C1105.6,1154.1 1107.7,1153.4 1109.7,1152.6 C1111.7,1151.9 1113.7,1151.2 1115.7,1150.5 C1117.7,1149.8 1119.7,1149.2 1121.7,1148.5 C1123.7,1147.8 1125.7,1147.1 1127.7,1146.5 C1129.7,1145.8 1131.7,1145.2 1133.7,1144.6 C1135.7,1143.9 1137.7,1143.3 1139.7,1142.7 C1141.7,1142.1 1143.7,1141.5 1145.7,1140.9 C1147.7,1140.3 1149.8,1139.7 1151.8,1139.1 C1153.8,1138.6 1155.8,1138.0 1157.8,1137.5 C1159.8,1136.9 1161.8,1136.4 1163.8,1135.8 C1165.8,1135.3 1167.8,1134.8 1169.8,1134.3 C1171.8,1133.7 1173.8,1133.2 1175.8,1132.8 C1177.8,1132.3 1179.8,1131.8 1181.8,1131.3 C1183.8,1130.8 1185.8,1130.4 1187.8,1129.9 C1189.9,1129.4 1191.9,1129.0 1193.9,1128.6 C1195.9,1128.1 1197.9,1127.7 1199.9,1127.3 C1201.9,1126.8 1203.9,1126.4 1205.9,1126.0 C1207.9,1125.6 1209.9,1125.2 1211.9,1124.8 C1213.9,1124.5 1215.9,1124.1 1217.9,1123.7 C1219.9,1123.3 1221.9,1123.0 1223.9,1122.6 C1225.9,1122.3 1227.9,1121.9 1229.9,1121.6 C1232.0,1121.3 1234.0,1120.9 1236.0,1120.6 C1238.0,1120.3 1240.0,1120.0 1242.0,1119.7 C1244.0,1119.4 1246.0,1119.1 1248.0,1118.8 C1250.0,1118.5 1252.0,1118.2 1254.0,1118.0 C1256.0,1117.7 1258.0,1117.4 1260.0,1117.2 C1262.0,1116.9 1264.0,1116.7 1266.0,1116.4 C1268.0,1116.2 1270.0,1115.9 1272.0,1115.7 C1274.1,1115.5 1276.1,1115.3 1278.1,1115.0 C1280.1,1114.8 1282.1,1114.6 1284.1,1114.4 C1286.1,1114.2 1288.1,1114.0 1290.1,1113.8 C1292.1,1113.7 1294.1,1113.5 1296.1,1113.3 C1298.1,1113.1 1300.1,1113.0 1302.1,1112.8 C1304.1,1112.7 1306.1,1112.5 1308.1,1112.4 C1310.1,1112.2 1312.1,1112.1 1314.2,1111.9 C1316.2,1111.8 1318.2,1111.7 1320.2,1111.6 C1322.2,1111.4 1324.2,1111.3 1326.2,1111.2 C1328.2,1111.1 1330.2,1111.0 1332.2,1110.9 C1334.2,1110.8 1336.2,1110.7 1338.2,1110.6 C1340.2,1110.5 1342.2,1110.5 1344.2,1110.4 C1346.2,1110.3 1348.2,1110.2 1350.2,1110.2 C1352.2,1110.1 1354.2,1110.1 1356.3,1110.0 C1358.3,1110.0 1360.3,1109.9 1362.3,1109.9 C1364.3,1109.8 1366.3,1109.8 1368.3,1109.8 C1370.3,1109.7 1372.3,1109.7 1374.3,1109.7 C1376.3,1109.7 1378.3,1109.6 1380.3,1109.6 C1382.3,1109.6 1384.3,1109.6 1386.3,1109.6 C1388.3,1109.6 1390.3,1109.6 1392.3,1109.6 C1394.3,1109.6 1396.3,1109.6 1398.4,1109.6 C1400.4,1109.7 1402.4,1109.7 1404.4,1109.7 C1406.4,1109.7 1408.4,1109.8 1410.4,1109.8 C1412.4,1109.8 1414.4,1109.9 1416.4,1109.9 C1418.4,1109.9 1420.4,1110.0 1422.4,1110.0 C1424.4,1110.1 1426.4,1110.1 1428.4,1110.2 C1430.4,1110.2 1432.4,1110.3 1434.4,1110.4 C1436.4,1110.4 1438.5,1110.5 1440.5,1110.6 C1442.5,1110.6 1444.5,1110.7 1446.5,1110.8 C1448.5,1110.9 1450.5,1110.9 1452.5,1111.0 C1454.5,1111.1 1456.5,1111.2 1458.5,1111.3 C1460.5,1111.4 1462.5,1111.5 1464.5,1111.6 C1466.5,1111.7 1468.5,1111.8 1470.5,1111.9 C1472.5,1112.0 1474.5,1112.1 1476.5,1112.3 C1478.5,1112.4 1480.6,1112.5 1482.6,1112.6 C1484.6,1112.7 1486.6,1112.9 1488.6,1113.0 C1490.6,1113.1 1492.6,1113.3 1494.6,1113.4 C1496.6,1113.6 1498.6,1113.7 1500.6,1113.9 C1502.6,1114.0 1504.6,1114.2 1506.6,1114.3 C1508.6,1114.5 1510.6,1114.6 1512.6,1114.8 C1514.6,1115.0 1516.6,1115.1 1518.6,1115.3 C1520.6,1115.5 1522.7,1115.6 1524.7,1115.8 C1526.7,1116.0 1528.7,1116.1 1530.7,1116.3 C1532.7,1116.5 1534.7,1116.7 1536.7,1116.8 C1538.7,1117.0 1540.7,1117.2 1542.7,1117.4 C1544.7,1117.5 1546.7,1117.7 1548.7,1117.9 C1550.7,1118.0 1552.7,1118.2 1554.7,1118.4 C1556.7,1118.5 1558.7,1118.7 1560.7,1118.9 C1562.8,1119.0 1564.8,1119.2 1566.8,1119.3 C1568.8,1119.5 1570.8,1119.7 1572.8,1119.8 C1574.8,1120.0 1576.8,1120.1 1578.8,1120.3 C1580.8,1120.4 1582.8,1120.5 1584.8,1120.7 C1586.8,1120.8 1588.8,1121.0 1590.8,1121.1 C1592.8,1121.2 1594.8,1121.4 1596.8,1121.5 C1598.8,1121.6 1600.8,1121.8 1602.8,1121.9 C1604.9,1122.0 1606.9,1122.2 1608.9,1122.3 C1610.9,1122.4 1612.9,1122.5 1614.9,1122.7 C1616.9,1122.8 1618.9,1122.9 1620.9,1123.0 C1622.9,1123.1 1624.9,1123.3 1626.9,1123.4 C1628.9,1123.5 1630.9,1123.6 1632.9,1123.7 C1634.9,1123.8 1636.9,1124.0 1638.9,1124.1 C1640.9,1124.2 1642.9,1124.3 1645.0,1124.4 C1647.0,1124.5 1649.0,1124.6 1651.0,1124.7 C1653.0,1124.8 1655.0,1125.0 1657.0,1125.1 C1659.0,1125.2 1661.0,1125.3 1663.0,1125.4 C1665.0,1125.5 1667.0,1125.6 1669.0,1125.7 C1671.0,1125.8 1673.0,1125.9 1675.0,1126.0 C1677.0,1126.1 1679.0,1126.2 1681.0,1126.3 C1683.0,1126.4 1685.0,1126.5 1687.1,1126.6 C1689.1,1126.7 1691.1,1126.8 1693.1,1127.0 C1695.1,1127.1 1697.1,1127.2 1699.1,1127.3 C1701.1,1127.4 1703.1,1127.5 1705.1,1127.6 C1707.1,1127.7 1709.1,1127.8 1711.1,1127.9 C1713.1,1128.0 1715.1,1128.1 1717.1,1128.2 C1719.1,1128.3 1721.1,1128.4 1723.1,1128.5 C1725.1,1128.7 1727.1,1128.8 1729.2,1128.9 C1731.2,1129.0 1733.2,1129.1 1735.2,1129.2 C1737.2,1129.3 1739.2,1129.4 1741.2,1129.6 C1743.2,1129.7 1745.2,1129.8 1747.2,1129.9 C1749.2,1130.0 1751.2,1130.1 1753.2,1130.3 C1755.2,1130.4 1757.2,1130.5 1759.2,1130.6 C1761.2,1130.7 1763.2,1130.9 1765.2,1131.0 C1767.2,1131.1 1769.3,1131.2 1771.3,1131.4 C1773.3,1131.5 1775.3,1131.6 1777.3,1131.7 C1779.3,1131.9 1781.3,1132.0 1783.3,1132.1 C1785.3,1132.3 1787.3,1132.4 1789.3,1132.5 C1791.3,1132.7 1793.3,1132.8 1795.3,1132.9 C1797.3,1133.1 1799.3,1133.2 1801.3,1133.4 C1803.3,1133.5 1805.3,1133.6 1807.3,1133.8 C1809.3,1133.9 1811.4,1134.1 1813.4,1134.2 C1815.4,1134.4 1817.4,1134.5 1819.4,1134.7 C1821.4,1134.8 1823.4,1135.0 1825.4,1135.1 C1827.4,1135.3 1829.4,1135.4 1831.4,1135.6 C1833.4,1135.7 1835.4,1135.9 1837.4,1136.1 C1839.4,1136.2 1841.4,1136.4 1843.4,1136.5 C1845.4,1136.7 1847.4,1136.9 1849.4,1137.0 C1851.4,1137.2 1853.5,1137.4 1855.5,1137.6 C1857.5,1137.7 1859.5,1137.9 1861.5,1138.1 C1863.5,1138.3 1865.5,1138.4 1867.5,1138.6 C1869.5,1138.8 1871.5,1139.0 1873.5,1139.2 C1875.5,1139.4 1877.5,1139.5 1879.5,1139.7 C1881.5,1139.9 1883.5,1140.1 1885.5,1140.3 C1887.5,1140.5 1889.5,1140.7 1891.5,1140.9 C1893.6,1141.1 1895.6,1141.3 1897.6,1141.5 C1899.6,1141.7 1901.6,1141.9 1903.6,1142.1 C1905.6,1142.3 1907.6,1142.5 1909.6,1142.7 C1911.6,1142.9 1913.6,1143.0 1915.6,1143.2 C1917.6,1143.4 1919.6,1143.6 1921.6,1143.8 C1923.6,1144.0 1925.6,1144.1 1927.6,1144.3 C1929.6,1144.5 1931.6,1144.6 1933.6,1144.8 C1935.7,1144.9 1937.7,1145.1 1939.7,1145.2 C1941.7,1145.4 1943.7,1145.5 1945.7,1145.6 C1947.7,1145.8 1949.7,1145.9 1951.7,1146.0 C1953.7,1146.1 1955.7,1146.2 1957.7,1146.3 C1959.7,1146.4 1961.7,1146.4 1963.7,1146.5 C1965.7,1146.6 1967.7,1146.6 1969.7,1146.7 C1971.7,1146.7 1973.7,1146.7 1975.7,1146.7 C1977.8,1146.8 1979.8,1146.8 1981.8,1146.8 C1983.8,1146.7 1985.8,1146.7 1987.8,1146.7 C1989.8,1146.7 1991.8,1146.6 1993.8,1146.6 C1995.8,1146.5 1997.8,1146.4 1999.8,1146.4 C2001.8,1146.3 2003.8,1146.2 2005.8,1146.1 C2007.8,1146.0 2009.8,1145.9 2011.8,1145.8 C2013.8,1145.7 2015.8,1145.6 2017.9,1145.5 C2019.9,1145.3 2021.9,1145.2 2023.9,1145.0 C2025.9,1144.9 2027.9,1144.8 2029.9,1144.6 C2031.9,1144.4 2033.9,1144.3 2035.9,1144.1 C2037.9,1143.9 2039.9,1143.7 2041.9,1143.6 C2043.9,1143.4 2045.9,1143.2 2047.9,1143.0 C2049.9,1142.8 2051.9,1142.6 2053.9,1142.4 C2055.9,1142.2 2057.9,1142.0 2060.0,1141.7 C2062.0,1141.5 2064.0,1141.3 2066.0,1141.1 C2068.0,1140.9 2070.0,1140.6 2072.0,1140.4 C2074.0,1140.2 2076.0,1139.9 2078.0,1139.7 C2080.0,1139.5 2082.0,1139.2 2084.0,1139.0 C2086.0,1138.7 2088.0,1138.5 2090.0,1138.3 C2092.0,1138.0 2094.0,1137.8 2096.0,1137.5 C2098.0,1137.3 2100.0,1137.0 2102.1,1136.8 C2104.1,1136.5 2106.1,1136.3 2108.1,1136.0 C2110.1,1135.8 2112.1,1135.6 2114.1,1135.3 C2116.1,1135.1 2118.1,1134.8 2120.1,1134.6 C2122.1,1134.3 2124.1,1134.1 2126.1,1133.9 C2128.1,1133.6 2130.1,1133.4 2132.1,1133.1 C2134.1,1132.9 2136.1,1132.7 2138.1,1132.4 C2140.1,1132.2 2142.2,1132.0 2144.2,1131.8 C2146.2,1131.5 2148.2,1131.3 2150.2,1131.1 C2152.2,1130.9 2154.2,1130.7 2156.2,1130.5 C2158.2,1130.3 2161.2,1130.0 2162.2,1129.9" stroke="#ff0000" />
<path d="M359.4,1515.3 C359.6,1507.9 360.3,1486.5 360.8,1471.0 C361.3,1455.5 361.7,1435.1 362.2,1422.4 C362.7,1409.7 363.0,1401.4 363.6,1394.7 C364.2,1388.0 364.9,1382.2 365.7,1382.2 C366.5,1382.2 367.3,1388.3 368.2,1395.0 C369.1,1401.7 370.2,1409.7 371.2,1422.4 C372.2,1435.1 373.0,1456.0 374.0,1471.0 C375.0,1486.0 376.2,1500.3 377.2,1512.6 C378.2,1524.9 379.2,1535.4 380.2,1545.0 C381.2,1554.6 382.0,1562.3 383.0,1570.0 C384.0,1577.7 385.1,1585.9 386.3,1591.0 C387.5,1596.1 388.7,1598.1 390.0,1600.5 C391.3,1602.9 392.3,1604.2 394.1,1605.2 C395.9,1606.2 398.6,1606.3 401.0,1606.5 C403.4,1606.7 404.6,1606.8 408.2,1606.1 C411.8,1605.3 417.6,1603.2 422.3,1602.0 C427.0,1600.8 431.7,1599.5 436.3,1598.7 C440.9,1597.9 446.7,1597.2 450.0,1596.9 C453.3,1596.6 454.0,1596.7 456.0,1596.7 C458.0,1596.6 460.1,1596.6 462.1,1596.7 C464.1,1596.7 466.1,1596.8 468.1,1596.9 C470.1,1597.0 472.1,1597.2 474.1,1597.4 C476.1,1597.6 478.2,1597.8 480.2,1598.0 C482.2,1598.3 484.2,1598.6 486.2,1598.9 C488.2,1599.2 490.2,1599.5 492.2,1599.9 C494.2,1600.2 496.3,1600.6 498.3,1601.1 C500.3,1601.5 502.3,1601.9 504.3,1602.4 C506.3,1602.8 508.3,1603.3 510.3,1603.8 C512.3,1604.3 514.4,1604.8 516.4,1605.4 C518.4,1605.9 520.4,1606.5 522.4,1607.1 C524.4,1607.6 526.4,1608.2 528.4,1608.8 C530.4,1609.4 532.5,1610.0 534.5,1610.7 C536.5,1611.3 538.5,1611.9 540.5,1612.6 C542.5,1613.2 544.5,1613.9 546.5,1614.5 C548.5,1615.2 550.6,1615.8 552.6,1616.5 C554.6,1617.2 556.6,1617.8 558.6,1618.5 C560.6,1619.2 562.6,1619.8 564.6,1620.5 C566.6,1621.2 568.7,1621.9 570.7,1622.5 C572.7,1623.2 574.7,1623.9 576.7,1624.5 C578.7,1625.2 580.7,1625.8 582.7,1626.5 C584.7,1627.1 586.8,1627.7 588.8,1628.4 C590.8,1629.0 592.8,1629.6 594.8,1630.2 C596.8,1630.8 598.8,1631.4 600.8,1632.0 C602.9,1632.6 604.9,1633.1 606.9,1633.7 C608.9,1634.2 610.9,1634.7 612.9,1635.2 C614.9,1635.7 616.9,1636.2 618.9,1636.7 C621.0,1637.2 623.0,1637.6 625.0,1638.0 C627.0,1638.5 629.0,1638.8 631.0,1639.2 C633.0,1639.6 635.0,1639.9 637.0,1640.2 C639.1,1640.6 641.1,1640.8 643.1,1641.1 C645.1,1641.4 647.1,1641.6 649.1,1641.8 C651.1,1642.0 653.1,1642.1 655.1,1642.3 C657.2,1642.4 659.2,1642.5 661.2,1642.6 C663.2,1642.6 665.2,1642.7 667.2,1642.7 C669.2,1642.7 671.2,1642.7 673.2,1642.6 C675.3,1642.6 677.3,1642.5 679.3,1642.3 C681.3,1642.2 683.3,1642.1 685.3,1641.9 C687.3,1641.7 689.3,1641.5 691.3,1641.2 C693.4,1641.0 695.4,1640.7 697.4,1640.3 C699.4,1640.0 701.4,1639.7 703.4,1639.3 C705.4,1638.9 707.4,1638.5 709.4,1638.0 C711.5,1637.5 713.5,1637.0 715.5,1636.5 C717.5,1636.0 719.5,1635.4 721.5,1634.8 C723.5,1634.2 725.5,1633.6 727.5,1632.9 C729.6,1632.2 731.6,1631.5 733.6,1630.8 C735.6,1630.0 737.6,1629.3 739.6,1628.5 C741.6,1627.6 743.6,1626.8 745.6,1625.9 C747.7,1625.0 749.7,1624.1 751.7,1623.1 C753.7,1622.2 755.7,1621.2 757.7,1620.2 C759.7,1619.1 761.7,1618.1 763.7,1617.0 C765.8,1616.0 767.8,1614.9 769.8,1613.7 C771.8,1612.6 773.8,1611.5 775.8,1610.3 C777.8,1609.1 779.8,1608.0 781.8,1606.8 C783.9,1605.6 785.9,1604.4 787.9,1603.1 C789.9,1601.9 791.9,1600.6 793.9,1599.4 C795.9,1598.1 797.9,1596.9 799.9,1595.6 C802.0,1594.3 804.0,1593.1 806.0,1591.8 C808.0,1590.5 810.0,1589.2 812.0,1587.9 C814.0,1586.6 816.0,1585.3 818.0,1584.0 C820.1,1582.7 822.1,1581.5 824.1,1580.2 C826.1,1578.9 828.1,1577.6 830.1,1576.3 C832.1,1575.0 834.1,1573.8 836.1,1572.5 C838.2,1571.2 840.2,1570.0 842.2,1568.7 C844.2,1567.4 846.2,1566.2 848.2,1564.9 C850.2,1563.6 852.2,1562.4 854.2,1561.1 C856.3,1559.9 858.3,1558.7 860.3,1557.4 C862.3,1556.2 864.3,1554.9 866.3,1553.7 C868.3,1552.5 870.3,1551.3 872.4,1550.0 C874.4,1548.8 876.4,1547.6 878.4,1546.4 C880.4,1545.2 882.4,1544.0 884.4,1542.8 C886.4,1541.6 888.4,1540.4 890.5,1539.2 C892.5,1538.1 894.5,1536.9 896.5,1535.7 C898.5,1534.6 900.5,1533.4 902.5,1532.2 C904.5,1531.1 906.5,1529.9 908.6,1528.8 C910.6,1527.7 912.6,1526.5 914.6,1525.4 C916.6,1524.3 918.6,1523.2 920.6,1522.1 C922.6,1521.0 924.6,1519.9 926.7,1518.8 C928.7,1517.7 930.7,1516.6 932.7,1515.5 C934.7,1514.5 936.7,1513.4 938.7,1512.4 C940.7,1511.3 942.7,1510.3 944.8,1509.2 C946.8,1508.2 948.8,1507.2 950.8,1506.2 C952.8,1505.2 954.8,1504.2 956.8,1503.2 C958.8,1502.2 960.8,1501.2 962.9,1500.2 C964.9,1499.3 966.9,1498.3 968.9,1497.4 C970.9,1496.4 972.9,1495.5 974.9,1494.5 C976.9,1493.6 978.9,1492.7 981.0,1491.8 C983.0,1490.9 985.0,1490.0 987.0,1489.1 C989.0,1488.3 991.0,1487.4 993.0,1486.6 C995.0,1485.7 997.0,1484.9 999.1,1484.0 C1001.1,1483.2 1003.1,1482.4 1005.1,1481.6 C1007.1,1480.8 1009.1,1480.0 1011.1,1479.2 C1013.1,1478.4 1015.1,1477.7 1017.2,1476.9 C1019.2,1476.2 1021.2,1475.4 1023.2,1474.7 C1025.2,1473.9 1027.2,1473.2 1029.2,1472.5 C1031.2,1471.8 1033.2,1471.1 1035.3,1470.5 C1037.3,1469.8 1039.3,1469.1 1041.3,1468.4 C1043.3,1467.8 1045.3,1467.2 1047.3,1466.5 C1049.3,1465.9 1051.3,1465.3 1053.4,1464.7 C1055.4,1464.1 1057.4,1463.5 1059.4,1462.9 C1061.4,1462.3 1063.4,1461.8 1065.4,1461.2 C1067.4,1460.7 1069.4,1460.1 1071.5,1459.6 C1073.5,1459.1 1075.5,1458.5 1077.5,1458.0 C1079.5,1457.5 1081.5,1457.1 1083.5,1456.6 C1085.5,1456.1 1087.5,1455.6 1089.6,1455.2 C1091.6,1454.7 1093.6,1454.3 1095.6,1453.9 C1097.6,1453.5 1099.6,1453.1 1101.6,1452.7 C1103.6,1452.3 1105.6,1451.9 1107.7,1451.5 C1109.7,1451.1 1111.7,1450.8 1113.7,1450.4 C1115.7,1450.1 1117.7,1449.8 1119.7,1449.5 C1121.7,1449.1 1123.7,1448.8 1125.8,1448.5 C1127.8,1448.3 1129.8,1448.0 1131.8,1447.7 C1133.8,1447.5 1135.8,1447.2 1137.8,1447.0 C1139.8,1446.7 1141.9,1446.5 1143.9,1446.3 C1145.9,1446.1 1147.9,1445.9 1149.9,1445.7 C1151.9,1445.5 1153.9,1445.4 1155.9,1445.2 C1157.9,1445.0 1160.0,1444.9 1162.0,1444.7 C1164.0,1444.6 1166.0,1444.5 1168.0,1444.3 C1170.0,1444.2 1172.0,1444.1 1174.0,1444.0 C1176.0,1443.9 1178.1,1443.8 1180.1,1443.7 C1182.1,1443.6 1184.1,1443.6 1186.1,1443.5 C1188.1,1443.4 1190.1,1443.4 1192.1,1443.3 C1194.1,1443.3 1196.2,1443.2 1198.2,1443.2 C1200.2,1443.2 1202.2,1443.1 1204.2,1443.1 C1206.2,1443.1 1208.2,1443.1 1210.2,1443.1 C1212.2,1443.1 1214.3,1443.1 1216.3,1443.1 C1218.3,1443.1 1220.3,1443.1 1222.3,1443.1 C1224.3,1443.1 1226.3,1443.1 1228.3,1443.1 C1230.3,1443.2 1232.4,1443.2 1234.4,1443.2 C1236.4,1443.2 1238.4,1443.3 1240.4,1443.3 C1242.4,1443.3 1244.4,1443.4 1246.4,1443.4 C1248.4,1443.5 1250.5,1443.5 1252.5,1443.5 C1254.5,1443.6 1256.5,1443.6 1258.5,1443.7 C1260.5,1443.7 1262.5,1443.8 1264.5,1443.8 C1266.5,1443.9 1268.6,1443.9 1270.6,1444.0 C1272.6,1444.0 1273.6,1443.7 1276.6,1444.1 C1279.6,1444.5 1284.0,1445.9 1288.7,1446.6 C1293.4,1447.3 1299.4,1448.2 1304.7,1448.2 C1310.0,1448.2 1313.1,1447.1 1320.8,1446.6 C1328.5,1446.1 1342.6,1445.7 1351.0,1445.2 C1359.4,1444.7 1366.7,1444.0 1371.1,1443.7 C1375.5,1443.4 1375.1,1443.6 1377.2,1443.6 C1379.2,1443.6 1381.2,1443.5 1383.2,1443.5 C1385.2,1443.5 1387.3,1443.5 1389.3,1443.5 C1391.3,1443.5 1393.3,1443.5 1395.3,1443.5 C1397.3,1443.5 1399.4,1443.5 1401.4,1443.5 C1403.4,1443.5 1405.4,1443.5 1407.4,1443.5 C1409.5,1443.5 1411.5,1443.6 1413.5,1443.6 C1415.5,1443.6 1417.5,1443.6 1419.6,1443.7 C1421.6,1443.7 1423.6,1443.7 1425.6,1443.8 C1427.6,1443.8 1429.6,1443.9 1431.7,1443.9 C1433.7,1443.9 1435.7,1444.0 1437.7,1444.0 C1439.7,1444.1 1441.8,1444.1 1443.8,1444.2 C1445.8,1444.2 1447.8,1444.3 1449.8,1444.3 C1451.9,1444.4 1453.9,1444.4 1455.9,1444.5 C1457.9,1444.6 1459.9,1444.6 1461.9,1444.7 C1464.0,1444.7 1466.0,1444.8 1468.0,1444.8 C1470.0,1444.9 1472.0,1445.0 1474.1,1445.0 C1476.1,1445.1 1478.1,1445.1 1480.1,1445.2 C1482.1,1445.3 1484.2,1445.3 1486.2,1445.4 C1488.2,1445.4 1490.2,1445.5 1492.2,1445.5 C1494.2,1445.6 1496.3,1445.7 1498.3,1445.7 C1500.3,1445.8 1502.3,1445.8 1504.3,1445.9 C1506.4,1445.9 1508.4,1446.0 1510.4,1446.0 C1512.4,1446.0 1514.4,1446.1 1516.5,1446.1 C1518.5,1446.2 1520.5,1446.2 1522.5,1446.2 C1524.5,1446.3 1526.5,1446.3 1528.6,1446.3 C1530.6,1446.4 1532.6,1446.4 1534.6,1446.4 C1536.6,1446.4 1538.7,1446.5 1540.7,1446.5 C1542.7,1446.5 1544.7,1446.5 1546.7,1446.5 C1548.8,1446.5 1550.8,1446.5 1552.8,1446.5 C1554.8,1446.5 1556.8,1446.5 1558.8,1446.5 C1560.9,1446.5 1562.9,1446.5 1564.9,1446.5 C1566.9,1446.5 1568.9,1446.4 1571.0,1446.4 C1573.0,1446.4 1575.0,1446.4 1577.0,1446.4 C1579.0,1446.3 1581.1,1446.3 1583.1,1446.3 C1585.1,1446.3 1587.1,1446.2 1589.1,1446.2 C1591.1,1446.2 1593.2,1446.1 1595.2,1446.1 C1597.2,1446.1 1599.2,1446.0 1601.2,1446.0 C1603.3,1446.0 1605.3,1445.9 1607.3,1445.9 C1609.3,1445.8 1611.3,1445.8 1613.4,1445.8 C1615.4,1445.7 1617.4,1445.7 1619.4,1445.6 C1621.4,1445.6 1623.4,1445.6 1625.5,1445.5 C1627.5,1445.5 1629.5,1445.4 1631.5,1445.4 C1633.5,1445.4 1635.6,1445.3 1637.6,1445.3 C1639.6,1445.2 1641.6,1445.2 1643.6,1445.2 C1645.7,1445.1 1647.7,1445.1 1649.7,1445.1 C1651.7,1445.0 1653.7,1445.0 1655.7,1445.0 C1657.8,1444.9 1659.8,1444.9 1661.8,1444.9 C1663.8,1444.8 1665.8,1444.8 1667.9,1444.8 C1669.9,1444.8 1671.9,1444.7 1673.9,1444.7 C1675.9,1444.7 1678.0,1444.7 1680.0,1444.7 C1682.0,1444.7 1684.0,1444.7 1686.0,1444.7 C1688.0,1444.6 1690.1,1444.6 1692.1,1444.6 C1694.1,1444.6 1696.1,1444.6 1698.1,1444.7 C1700.2,1444.7 1702.2,1444.7 1704.2,1444.7 C1706.2,1444.7 1708.2,1444.7 1710.3,1444.7 C1712.3,1444.8 1714.3,1444.8 1716.3,1444.8 C1718.3,1444.9 1720.3,1444.9 1722.4,1444.9 C1724.4,1445.0 1726.4,1445.0 1728.4,1445.1 C1730.4,1445.1 1732.5,1445.2 1734.5,1445.3 C1736.5,1445.3 1738.5,1445.4 1740.5,1445.5 C1742.6,1445.5 1744.6,1445.6 1746.6,1445.7 C1748.6,1445.8 1750.6,1445.9 1752.6,1446.0 C1754.7,1446.1 1756.7,1446.2 1758.7,1446.3 C1760.7,1446.4 1762.7,1446.5 1764.8,1446.6 C1766.8,1446.7 1768.8,1446.8 1770.8,1447.0 C1772.8,1447.1 1774.9,1447.2 1776.9,1447.4 C1778.9,1447.5 1780.9,1447.6 1782.9,1447.8 C1784.9,1447.9 1787.0,1448.1 1789.0,1448.3 C1791.0,1448.4 1793.0,1448.6 1795.0,1448.8 C1797.1,1448.9 1799.1,1449.1 1801.1,1449.3 C1803.1,1449.5 1805.1,1449.7 1807.2,1449.9 C1809.2,1450.0 1811.2,1450.3 1813.2,1450.5 C1815.2,1450.7 1817.2,1450.9 1819.3,1451.1 C1821.3,1451.3 1823.3,1451.5 1825.3,1451.8 C1827.3,1452.0 1829.4,1452.2 1831.4,1452.5 C1833.4,1452.7 1835.4,1453.0 1837.4,1453.2 C1839.5,1453.5 1841.5,1453.8 1843.5,1454.0 C1845.5,1454.3 1847.5,1454.6 1849.5,1454.9 C1851.6,1455.1 1853.6,1455.4 1855.6,1455.7 C1857.6,1456.0 1859.6,1456.3 1861.7,1456.6 C1863.7,1456.9 1865.7,1457.3 1867.7,1457.6 C1869.7,1457.9 1871.8,1458.2 1873.8,1458.6 C1875.8,1458.9 1877.8,1459.2 1879.8,1459.6 C1881.8,1459.9 1883.9,1460.3 1885.9,1460.7 C1887.9,1461.0 1889.9,1461.4 1891.9,1461.8 C1894.0,1462.1 1896.0,1462.5 1898.0,1462.9 C1900.0,1463.3 1902.0,1463.7 1904.1,1464.1 C1906.1,1464.5 1908.1,1464.9 1910.1,1465.3 C1912.1,1465.7 1914.1,1466.2 1916.2,1466.6 C1918.2,1467.0 1920.2,1467.5 1922.2,1467.9 C1924.2,1468.4 1926.3,1468.8 1928.3,1469.3 C1930.3,1469.7 1932.3,1470.2 1934.3,1470.6 C1936.4,1471.1 1938.4,1471.6 1940.4,1472.0 C1942.4,1472.5 1944.4,1472.9 1946.4,1473.3 C1948.5,1473.7 1950.5,1474.2 1952.5,1474.6 C1954.5,1475.0 1956.5,1475.3 1958.6,1475.7 C1960.6,1476.1 1962.6,1476.4 1964.6,1476.7 C1966.6,1477.0 1968.7,1477.3 1970.7,1477.6 C1972.7,1477.8 1974.7,1478.1 1976.7,1478.3 C1978.7,1478.5 1980.8,1478.6 1982.8,1478.7 C1984.8,1478.8 1986.8,1478.9 1988.8,1478.9 C1990.9,1479.0 1993.2,1478.3 1994.9,1478.9 C1996.6,1479.5 1998.1,1480.0 1999.2,1482.3 C2000.3,1484.6 2000.5,1488.8 2001.3,1492.8 C2002.0,1496.8 2002.7,1505.9 2003.7,1506.5 C2004.8,1507.1 2006.5,1499.2 2007.6,1496.3 C2008.7,1493.4 2008.8,1491.3 2010.4,1489.3 C2012.1,1487.3 2014.6,1485.7 2017.5,1484.4 C2020.4,1483.1 2025.2,1482.0 2028.0,1481.5 C2030.8,1481.0 2032.1,1481.4 2034.2,1481.4 C2036.2,1481.3 2038.3,1481.2 2040.3,1481.2 C2042.4,1481.1 2044.5,1481.0 2046.5,1480.9 C2048.6,1480.8 2050.6,1480.7 2052.7,1480.6 C2054.7,1480.5 2056.8,1480.4 2058.9,1480.3 C2060.9,1480.2 2063.0,1480.1 2065.0,1479.9 C2067.1,1479.8 2069.2,1479.7 2071.2,1479.5 C2073.3,1479.4 2075.3,1479.2 2077.4,1479.1 C2079.4,1478.9 2081.5,1478.8 2083.6,1478.6 C2085.6,1478.4 2087.7,1478.3 2089.7,1478.1 C2091.8,1477.9 2093.8,1477.7 2095.9,1477.5 C2098.0,1477.4 2100.0,1477.2 2102.1,1477.0 C2104.1,1476.8 2106.2,1476.6 2108.2,1476.4 C2110.3,1476.2 2112.4,1476.0 2114.4,1475.8 C2116.5,1475.6 2118.5,1475.4 2120.6,1475.2 C2122.6,1475.0 2124.7,1474.8 2126.8,1474.6 C2128.8,1474.3 2130.9,1474.1 2132.9,1473.9 C2135.0,1473.7 2137.1,1473.5 2139.1,1473.3 C2141.2,1473.0 2143.2,1472.8 2145.3,1472.6 C2147.3,1472.4 2149.4,1472.2 2151.5,1471.9 C2153.5,1471.7 2155.6,1471.5 2157.6,1471.3 C2159.7,1471.0 2162.8,1470.7 2163.8,1470.6" stroke="#000000" />
</g>
<g fill="none" stroke-linecap="round">
<path d="M149.5,1878.0 L149.5,1835.2 L2247.5,1835.2 L2247.5,1878.0" stroke="#000" stroke-width="8.5" stroke-linejoin="round"/>
<path d="M359.3,1835.2 L359.3,1878" stroke="#000" stroke-width="8.3"/><path d="M569.1,1835.2 L569.1,1878" stroke="#000" stroke-width="8.3"/><path d="M778.9,1835.2 L778.9,1878" stroke="#000" stroke-width="8.3"/><path d="M988.7,1835.2 L988.7,1878" stroke="#000" stroke-width="8.3"/><path d="M1198.5,1835.2 L1198.5,1878" stroke="#000" stroke-width="8.3"/><path d="M1408.3,1835.2 L1408.3,1878" stroke="#000" stroke-width="8.3"/><path d="M1618.1,1835.2 L1618.1,1878" stroke="#000" stroke-width="8.3"/><path d="M1827.9,1835.2 L1827.9,1878" stroke="#000" stroke-width="8.3"/><path d="M2037.7,1835.2 L2037.7,1878" stroke="#000" stroke-width="8.3"/>
<path d="M280,830 L314.5,830 M314.5,827 L314.5,1223.5 M280,1219.6 L314.5,1219.6" stroke="#000" stroke-width="9"/>
</g>
<g>
<text transform="translate(148.70,1980.00) scale(1.0000,1.0000)" font-size="94.30" text-anchor="middle">0</text>
<text transform="translate(358.50,1980.00) scale(1.0000,1.0000)" font-size="94.30" text-anchor="middle">25</text>
<text transform="translate(568.30,1980.00) scale(1.0000,1.0000)" font-size="94.30" text-anchor="middle">50</text>
<text transform="translate(778.10,1980.00) scale(1.0000,1.0000)" font-size="94.30" text-anchor="middle">75</text>
<text transform="translate(987.90,1980.00) scale(1.0000,1.0000)" font-size="94.30" text-anchor="middle">100</text>
<text transform="translate(1197.70,1980.00) scale(1.0000,1.0000)" font-size="94.30" text-anchor="middle">125</text>
<text transform="translate(1407.50,1980.00) scale(1.0000,1.0000)" font-size="94.30" text-anchor="middle">150</text>
<text transform="translate(1617.30,1980.00) scale(1.0000,1.0000)" font-size="94.30" text-anchor="middle">175</text>
<text transform="translate(1827.10,1980.00) scale(1.0000,1.0000)" font-size="94.30" text-anchor="middle">200</text>
<text transform="translate(2036.90,1980.00) scale(1.0000,1.0000)" font-size="94.30" text-anchor="middle">225</text>
<text transform="translate(2246.70,1980.00) scale(1.0000,1.0000)" font-size="94.30" text-anchor="middle">250</text>
<text transform="translate(1617.80,315.10) scale(1.0000,1.0400)" font-size="113.60" text-anchor="start">GCH</text>
<text transform="translate(1617.80,619.80) scale(1.0000,1.0400)" font-size="113.60" text-anchor="start">GCL</text>
<text transform="translate(1617.80,960.10) scale(1.0000,1.0400)" font-size="113.60" text-anchor="start">GA</text>
<text transform="translate(1617.80,1328.10) scale(1.0000,1.0400)" font-size="113.60" text-anchor="start">G</text>
<text transform="translate(63.20,125.00) scale(0.9530,1.2440)" font-size="100.00" text-anchor="start">^</text>
<text transform="translate(112.54,122.00) scale(1.0000,0.9850)" font-size="114.30" text-anchor="start">exo</text>
<text transform="translate(20.40,1096.80) scale(1.0000,1.0500)" font-size="87.00" text-anchor="start">1 W/g</text>
<text transform="translate(1200.15,2162.00) scale(1.0000,1.0360)" font-size="115.90" text-anchor="middle">Temperature (°C)</text>
</g>
</svg>
</body></html>
